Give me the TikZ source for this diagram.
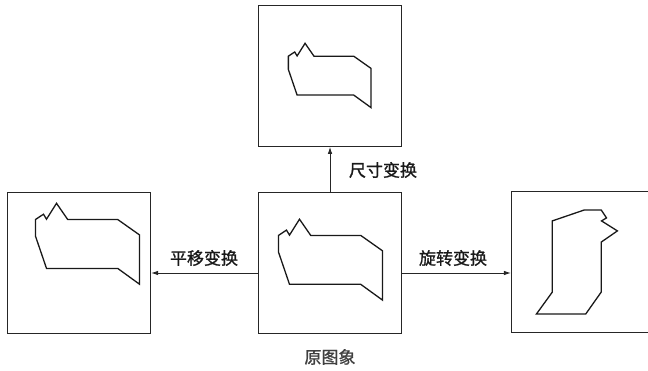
\documentclass[tikz,border=0pt]{standalone}
\usepackage{fontspec}
\newfontfamily\cjk[FakeBold=1.2]{Noto Sans CJK SC}
\usetikzlibrary{arrows.meta}
\tikzset{
  framebox/.style={draw=black!85, line width=1.1pt, minimum width=143pt, minimum height=141pt, inner sep=0pt},
  outline/.style={draw=black!90, line width=1.3pt, line join=miter},
  conn/.style={draw=black!85, line width=0.9pt, -{Latex[length=7pt,width=4.5pt]}},
  lbl/.style={font=\cjk\fontsize{17}{17}\selectfont, text=black!90, inner sep=0pt},
  shapefig/.pic={
    \draw[outline] (-52,-24.3) -- (-44,-29.6) -- (-41,-24.6) -- (-31,-40.5) -- (-19.8,-24.3)
      -- (30.2,-24.3) -- (52,-8.9) -- (52,40.4) -- (30.2,24.6) -- (-41,24.6) -- (-52,-7.6) -- cycle;
  }
}
\begin{document}
\begin{tikzpicture}[x=1pt,y=-1pt]
\useasboundingbox (0,0) rectangle (648,370);
\clip (0,0) rectangle (648,370);
% boxes
\node[framebox] (t) at (330,75.8) {};
\node[framebox] (c) at (330,263) {};
\node[framebox] (l) at (79,263) {};
\node[framebox] (r) at (583,262) {};
% figures
\pic at (330.5,259.7) {shapefig};
\pic[scale=0.795] at (329.7,75.5) {shapefig};
\pic at (87.5,243.8) {shapefig};
\pic[rotate=-90] at (576.9,261.9) {shapefig};
% connectors
\draw[conn] (c.north) -- (t.south);
\draw[conn] ([yshift=-10pt]c.west) -- ([yshift=-10pt]l.east);
\draw[conn] ([yshift=-10pt]c.east) -- ([yshift=-11pt]r.west);
% labels
\node[lbl] (lt) at (383,170) {尺寸变换};
\node[lbl] (ll) at (204,258) {平移变换};
\node[lbl] (lr) at (453,258) {旋转变换};
\node[lbl, text=black!75] (lc) at (330,357) {原图象};
\end{tikzpicture}
\end{document}
